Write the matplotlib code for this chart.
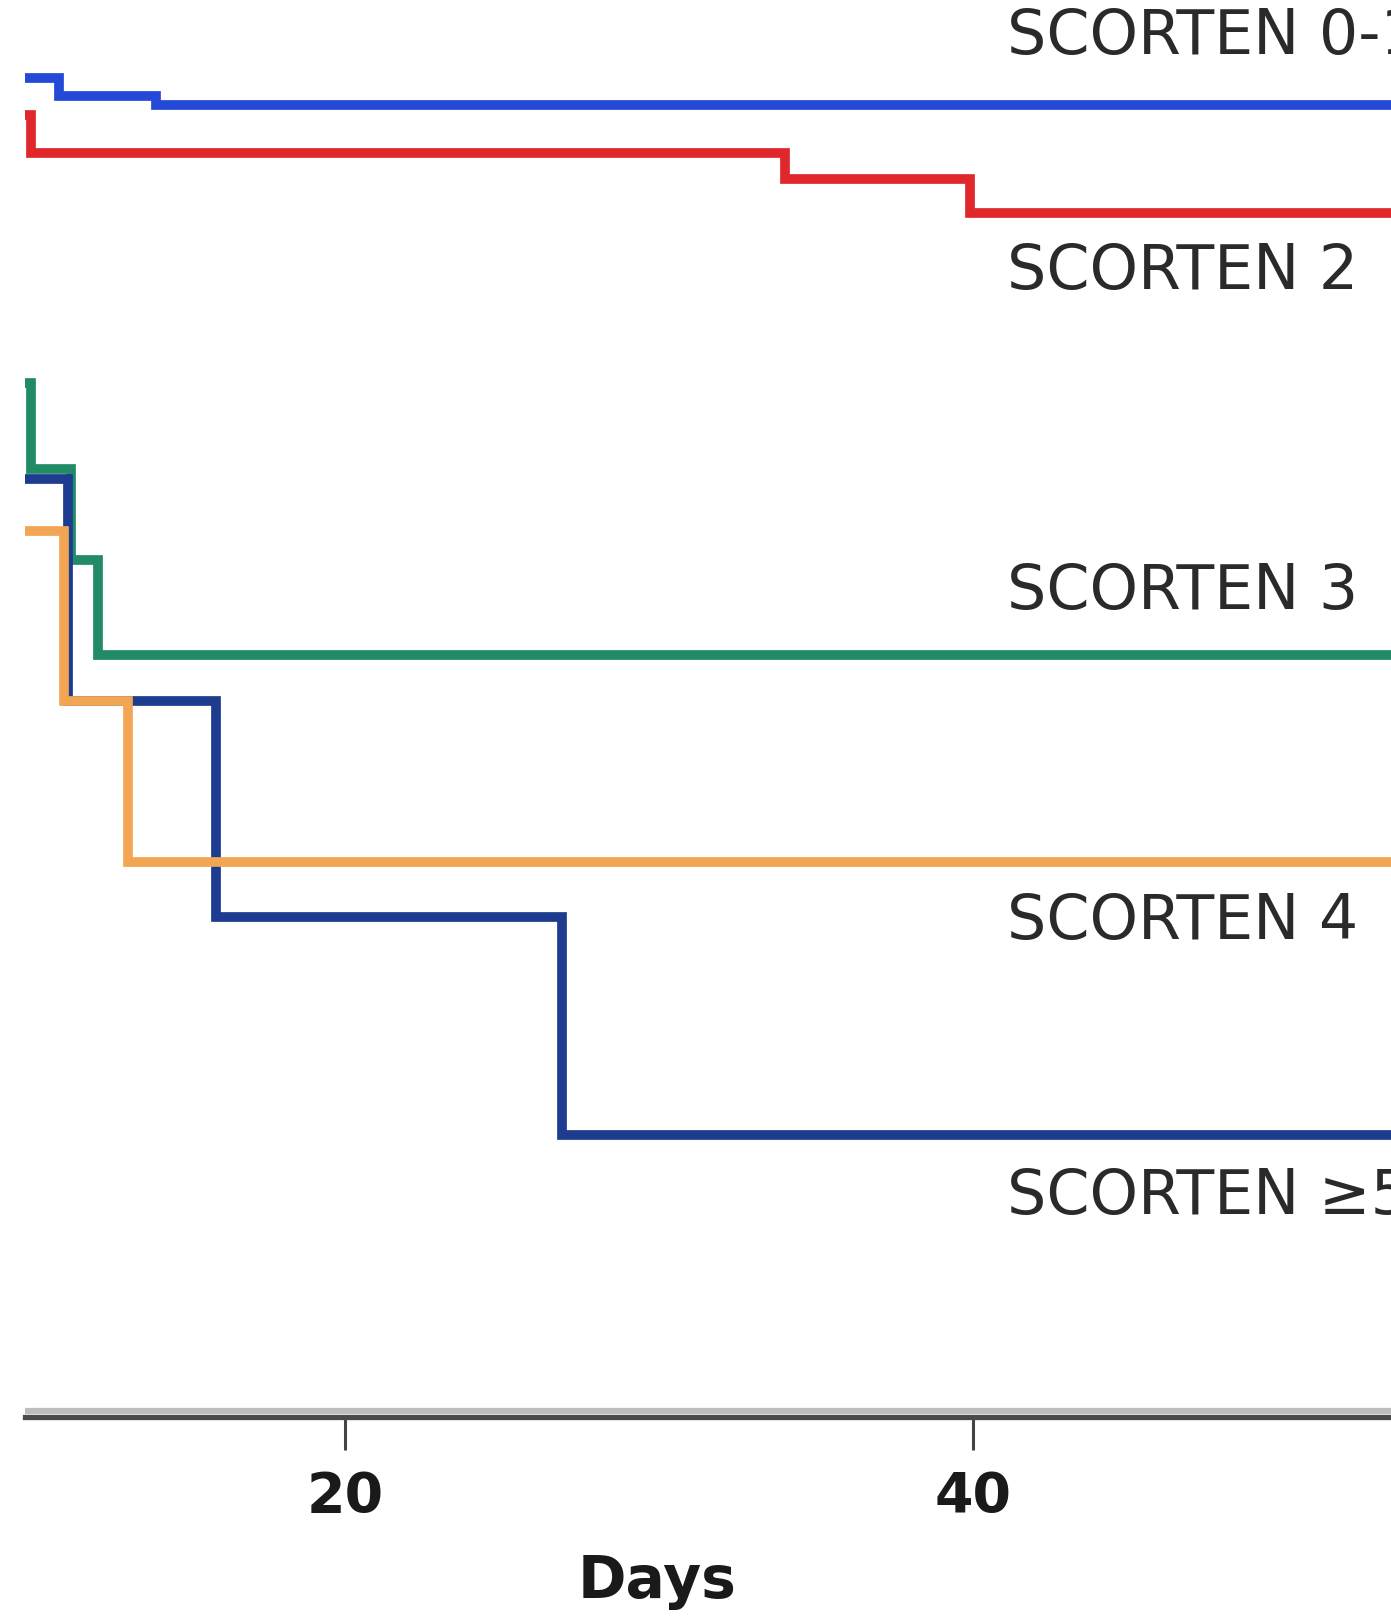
import matplotlib
matplotlib.use("Agg")
import matplotlib.pyplot as plt
from matplotlib.transforms import ScaledTranslation

# ---- data ----
groups = ["SCORTEN 0-1", "SCORTEN 2", "SCORTEN 3", "SCORTEN 4", "SCORTEN \u22655"]
colors = ["#2449d6", "#e0282c", "#218a66", "#f2a552", "#1d3b8f"]

days_01 = [9.0, 10.9, 14.0, 54.0]
surv_01 = [0.945, 0.932, 0.926, 0.926]

days_2 = [9.0, 10.0, 34.0, 39.9, 54.0]
surv_2 = [0.919, 0.892, 0.874, 0.850, 0.850]

days_3 = [9.0, 10.0, 11.3, 12.15, 54.0]
surv_3 = [0.730, 0.669, 0.605, 0.538, 0.538]

days_4 = [9.0, 11.05, 13.1, 54.0]
surv_4 = [0.625, 0.505, 0.392, 0.392]

days_5 = [9.0, 11.2, 15.9, 26.9, 54.0]
surv_5 = [0.662, 0.505, 0.353, 0.199, 0.199]

label_x = 41.08
label_y = [0.974, 0.808, 0.582, 0.349, 0.155]

xticks = [20, 40]
xlabel = "Days"

# ---- figure ----
W, H, DPI = 1391, 1616, 100
fig = plt.figure(figsize=(W / DPI, H / DPI), dpi=DPI)
ax = fig.add_axes([25 / W, (H - 1417) / H, (W - 25) / W, 1417 / H])

series = [(days_01, surv_01), (days_2, surv_2), (days_3, surv_3),
          (days_5, surv_5), (days_4, surv_4)]
cols = [colors[0], colors[1], colors[2], colors[4], colors[3]]
for (d, s), c in zip(series, cols):
    ax.step(d, s, where="post", color=c, lw=7.0, solid_joinstyle="miter",
            solid_capstyle="butt")

for name, yy in zip(groups, label_y):
    ax.text(label_x, yy, name, fontsize=44.5, color="#2a2a2a",
            ha="left", va="center", clip_on=False)

ax.set_xlim(9.82, 53.3)
ax.set_ylim(0, 1)

for sp in ["top", "right", "left"]:
    ax.spines[sp].set_visible(False)
ax.spines["bottom"].set_color("#4a4a4a")
ax.spines["bottom"].set_linewidth(3.8)
# lighter upper band of the axis line
ax.plot([0, 1], [0, 0], transform=ax.transAxes + ScaledTranslation(0, 4.1 / 72, fig.dpi_scale_trans),
        color="#bdbdbd", lw=4.5, clip_on=False, solid_capstyle="butt")

ax.set_yticks([])
ax.set_xticks(xticks)
ax.set_xticklabels([str(t) for t in xticks], fontsize=40, fontweight="bold", color="#1a1a1a")
ax.tick_params(axis="x", length=24, width=2.2, color="#444444", pad=14, direction="out")

ax.set_xlabel(xlabel, fontsize=42, fontweight="bold", color="#1a1a1a")
ax.xaxis.set_label_coords((657 - 25) / (W - 25), (1417 - 1581) / 1417)
ax.xaxis.label.set_verticalalignment("center")

fig.savefig("out.png", dpi=DPI, facecolor="white")
